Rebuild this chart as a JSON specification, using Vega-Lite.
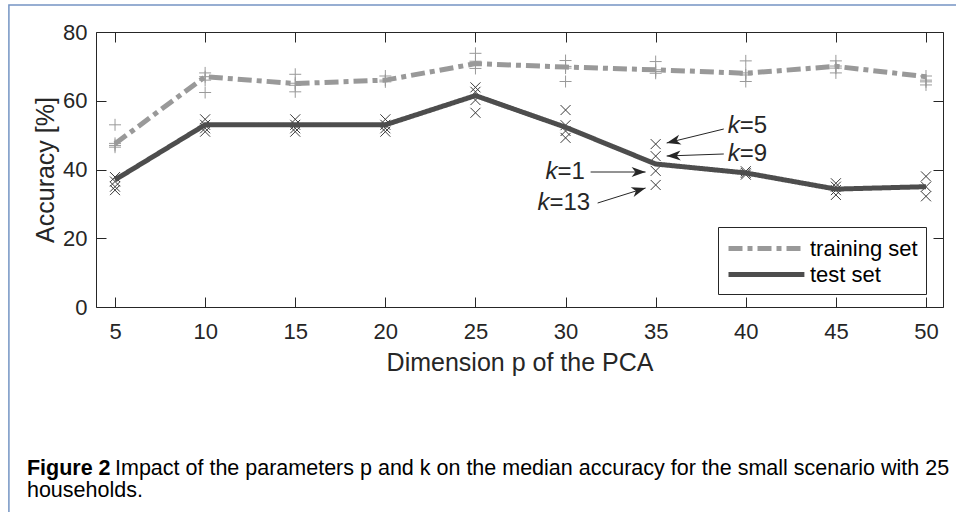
{
  "$schema": "https://vega.github.io/schema/vega-lite/v6.json",
  "width": 847,
  "height": 275,
  "autosize": {"type": "none"},
  "padding": {"left": 96, "top": 32, "right": 13, "bottom": 205},
  "background": "white",
  "config": {
    "font": "Liberation Sans",
    "view": {"stroke": null},
    "axis": {
      "grid": false,
      "domainColor": "#262626",
      "tickColor": "#262626",
      "labelColor": "#262626",
      "titleColor": "#262626",
      "titleFontWeight": "normal",
      "domainWidth": 1,
      "tickWidth": 1
    },
    "legend": {
      "strokeColor": "#262626",
      "fillColor": "white",
      "padding": 8,
      "symbolType": "M-1,0L5.9,0",
      "symbolSize": 484,
      "symbolStrokeWidth": 5,
      "labelFontSize": 22,
      "labelColor": "black",
      "labelOffset": 57,
      "rowPadding": 1
    }
  },
  "datasets": {
    "median": [
      {"p": 5, "acc": 47.5, "set": "training set"},
      {"p": 10, "acc": 67, "set": "training set"},
      {"p": 15, "acc": 65, "set": "training set"},
      {"p": 20, "acc": 66, "set": "training set"},
      {"p": 25, "acc": 70.8, "set": "training set"},
      {"p": 30, "acc": 69.8, "set": "training set"},
      {"p": 35, "acc": 69, "set": "training set"},
      {"p": 40, "acc": 68, "set": "training set"},
      {"p": 45, "acc": 70, "set": "training set"},
      {"p": 50, "acc": 67, "set": "training set"},
      {"p": 5, "acc": 37, "set": "test set"},
      {"p": 10, "acc": 53, "set": "test set"},
      {"p": 15, "acc": 53, "set": "test set"},
      {"p": 20, "acc": 53, "set": "test set"},
      {"p": 25, "acc": 61.5, "set": "test set"},
      {"p": 30, "acc": 52.3, "set": "test set"},
      {"p": 35, "acc": 41.6, "set": "test set"},
      {"p": 40, "acc": 39, "set": "test set"},
      {"p": 45, "acc": 34.3, "set": "test set"},
      {"p": 50, "acc": 35, "set": "test set"}
    ],
    "markers": [
      {"p": 5, "acc": 53, "set": "training set"},
      {"p": 5, "acc": 47.6, "set": "training set"},
      {"p": 5, "acc": 47, "set": "training set"},
      {"p": 5, "acc": 46.5, "set": "training set"},
      {"p": 10, "acc": 68.1, "set": "training set"},
      {"p": 10, "acc": 67, "set": "training set"},
      {"p": 10, "acc": 66, "set": "training set"},
      {"p": 10, "acc": 62.4, "set": "training set"},
      {"p": 15, "acc": 67.7, "set": "training set"},
      {"p": 15, "acc": 65.1, "set": "training set"},
      {"p": 15, "acc": 64.5, "set": "training set"},
      {"p": 15, "acc": 62.6, "set": "training set"},
      {"p": 20, "acc": 67.2, "set": "training set"},
      {"p": 20, "acc": 66, "set": "training set"},
      {"p": 20, "acc": 65.5, "set": "training set"},
      {"p": 25, "acc": 73.8, "set": "training set"},
      {"p": 25, "acc": 71.5, "set": "training set"},
      {"p": 25, "acc": 70.7, "set": "training set"},
      {"p": 25, "acc": 69.4, "set": "training set"},
      {"p": 30, "acc": 71.7, "set": "training set"},
      {"p": 30, "acc": 70, "set": "training set"},
      {"p": 30, "acc": 69.5, "set": "training set"},
      {"p": 30, "acc": 65.6, "set": "training set"},
      {"p": 35, "acc": 71.4, "set": "training set"},
      {"p": 35, "acc": 69, "set": "training set"},
      {"p": 35, "acc": 68.5, "set": "training set"},
      {"p": 35, "acc": 68, "set": "training set"},
      {"p": 40, "acc": 71.6, "set": "training set"},
      {"p": 40, "acc": 68.1, "set": "training set"},
      {"p": 40, "acc": 67.5, "set": "training set"},
      {"p": 40, "acc": 65.6, "set": "training set"},
      {"p": 45, "acc": 71.6, "set": "training set"},
      {"p": 45, "acc": 70.1, "set": "training set"},
      {"p": 45, "acc": 69.5, "set": "training set"},
      {"p": 45, "acc": 68.1, "set": "training set"},
      {"p": 50, "acc": 67.2, "set": "training set"},
      {"p": 50, "acc": 66, "set": "training set"},
      {"p": 50, "acc": 65.5, "set": "training set"},
      {"p": 50, "acc": 64.6, "set": "training set"},
      {"p": 5, "acc": 37.8, "set": "test set"},
      {"p": 5, "acc": 36.5, "set": "test set"},
      {"p": 5, "acc": 35, "set": "test set"},
      {"p": 5, "acc": 34, "set": "test set"},
      {"p": 10, "acc": 54.6, "set": "test set"},
      {"p": 10, "acc": 53, "set": "test set"},
      {"p": 10, "acc": 52, "set": "test set"},
      {"p": 10, "acc": 51, "set": "test set"},
      {"p": 15, "acc": 54.6, "set": "test set"},
      {"p": 15, "acc": 53, "set": "test set"},
      {"p": 15, "acc": 52, "set": "test set"},
      {"p": 15, "acc": 51, "set": "test set"},
      {"p": 20, "acc": 54.6, "set": "test set"},
      {"p": 20, "acc": 53, "set": "test set"},
      {"p": 20, "acc": 52, "set": "test set"},
      {"p": 20, "acc": 51, "set": "test set"},
      {"p": 25, "acc": 63.9, "set": "test set"},
      {"p": 25, "acc": 62.6, "set": "test set"},
      {"p": 25, "acc": 60.2, "set": "test set"},
      {"p": 25, "acc": 56.5, "set": "test set"},
      {"p": 30, "acc": 57.3, "set": "test set"},
      {"p": 30, "acc": 52.9, "set": "test set"},
      {"p": 30, "acc": 51.2, "set": "test set"},
      {"p": 30, "acc": 49.2, "set": "test set"},
      {"p": 35, "acc": 47.4, "set": "test set"},
      {"p": 35, "acc": 43.9, "set": "test set"},
      {"p": 35, "acc": 39.6, "set": "test set"},
      {"p": 35, "acc": 35.5, "set": "test set"},
      {"p": 40, "acc": 39.5, "set": "test set"},
      {"p": 40, "acc": 39, "set": "test set"},
      {"p": 40, "acc": 38.5, "set": "test set"},
      {"p": 45, "acc": 36, "set": "test set"},
      {"p": 45, "acc": 35, "set": "test set"},
      {"p": 45, "acc": 34, "set": "test set"},
      {"p": 45, "acc": 32.6, "set": "test set"},
      {"p": 50, "acc": 38, "set": "test set"},
      {"p": 50, "acc": 35, "set": "test set"},
      {"p": 50, "acc": 32.2, "set": "test set"}
    ],
    "arrows": [
      {"k": "=5", "x0": 38.78, "y0": 51.78, "x1": 35.61, "y1": 47.71, "angle": 166, "tx": 39.0, "ty": 52.65},
      {"k": "=9", "x0": 38.78, "y0": 44.51, "x1": 35.61, "y1": 43.93, "angle": 178, "tx": 39.0, "ty": 44.5},
      {"k": "=1", "x0": 31.39, "y0": 39.27, "x1": 34.44, "y1": 39.27, "angle": 0, "tx": 28.89, "ty": 39.27},
      {"k": "=13", "x0": 31.78, "y0": 30.25, "x1": 34.44, "y1": 34.62, "angle": 343, "tx": 28.44, "ty": 30.25}
    ],
    "frame": [
      {"x0": -0.889, "x1": 53, "y0": 87.85, "y1": -66}
    ],
    "caption": [
      {"part": "bold", "text": "Figure 2", "x": 0.111, "y": -48.87},
      {"part": "regular", "text": "Impact of the parameters p and k on the median accuracy for the small scenario with 25", "x": 5.0, "y": -48.87},
      {"part": "regular", "text": "households.", "x": 0.111, "y": -55.27}
    ]
  },
  "layer": [
    {
      "data": {"name": "frame"},
      "mark": {"type": "rect", "fillOpacity": 0, "stroke": "#7594c4", "strokeWidth": 1.5, "clip": false},
      "encoding": {
        "x": {"field": "x0", "type": "quantitative", "scale": {"domain": [3.944, 50.944], "nice": false, "zero": false}, "axis": null},
        "x2": {"field": "x1"},
        "y": {"field": "y0", "type": "quantitative", "scale": {"domain": [0, 80], "nice": false}, "axis": null},
        "y2": {"field": "y1"}
      }
    },
    {
      "data": {"name": "markers"},
      "transform": [{"filter": "datum.set === 'training set'"}],
      "mark": {"type": "point", "shape": "M-1,0L1,0M0,-1L0,1", "size": 144, "filled": false, "color": "#999999", "strokeWidth": 1, "opacity": 1},
      "encoding": {
        "x": {"field": "p", "type": "quantitative", "axis": null},
        "y": {"field": "acc", "type": "quantitative", "axis": null}
      }
    },
    {
      "data": {"name": "markers"},
      "transform": [{"filter": "datum.set === 'test set'"}],
      "mark": {"type": "point", "shape": "M-1,-1L1,1M-1,1L1,-1", "size": 100, "filled": false, "color": "#3a3a3a", "strokeWidth": 1, "opacity": 1},
      "encoding": {
        "x": {"field": "p", "type": "quantitative", "axis": null},
        "y": {"field": "acc", "type": "quantitative", "axis": null}
      }
    },
    {
      "data": {"name": "median"},
      "mark": {"type": "line", "strokeWidth": 5},
      "encoding": {
        "x": {
          "field": "p", "type": "quantitative",
          "scale": {"domain": [3.944, 50.944], "nice": false, "zero": false},
          "axis": {"orient": "bottom", "values": [5, 10, 15, 20, 25, 30, 35, 40, 45, 50], "tickSize": -10, "labelFontSize": 22, "labelPadding": 24, "labelFlush": false, "title": "Dimension  p of the PCA", "titleFontSize": 25, "titlePadding": 8}
        },
        "y": {
          "field": "acc", "type": "quantitative",
          "scale": {"domain": [0, 80], "nice": false},
          "axis": {"orient": "left", "values": [0, 20, 40, 60, 80], "tickSize": -10, "labelFontSize": 22, "labelPadding": 19, "title": "Accuracy [%]", "titleFontSize": 25, "titlePadding": 4}
        },
        "color": {
          "field": "set", "type": "nominal",
          "scale": {"domain": ["training set", "test set"], "range": ["#999999", "#4d4d4d"]},
          "legend": {"title": null, "orient": "none", "legendX": 622, "legendY": 195}
        },
        "strokeDash": {
          "field": "set", "type": "nominal",
          "scale": {"domain": ["training set", "test set"], "range": [[14, 5, 5, 5], [1, 0]]},
          "legend": {"title": null, "orient": "none", "legendX": 622, "legendY": 195}
        }
      }
    },
    {
      "data": {"name": "arrows"},
      "mark": {"type": "rule", "color": "#262626", "strokeWidth": 1},
      "encoding": {
        "x": {"field": "x0", "type": "quantitative", "axis": null},
        "y": {"field": "y0", "type": "quantitative", "axis": null},
        "x2": {"field": "x1"},
        "y2": {"field": "y1"}
      }
    },
    {
      "data": {"name": "arrows"},
      "mark": {"type": "point", "shape": "M0,0L-1,-0.36L-0.72,0L-1,0.36Z", "size": 784, "filled": true, "color": "#262626", "opacity": 1},
      "encoding": {
        "x": {"field": "x1", "type": "quantitative", "axis": null},
        "y": {"field": "y1", "type": "quantitative", "axis": null},
        "angle": {"field": "angle", "type": "quantitative", "scale": null}
      }
    },
    {
      "data": {"name": "arrows"},
      "mark": {"type": "text", "text": "k", "fontStyle": "italic", "fontSize": 24, "align": "left", "baseline": "middle", "color": "#262626"},
      "encoding": {
        "x": {"field": "tx", "type": "quantitative", "axis": null},
        "y": {"field": "ty", "type": "quantitative", "axis": null}
      }
    },
    {
      "data": {"name": "arrows"},
      "mark": {"type": "text", "fontSize": 24, "align": "left", "baseline": "middle", "dx": 12, "color": "#262626"},
      "encoding": {
        "x": {"field": "tx", "type": "quantitative", "axis": null},
        "y": {"field": "ty", "type": "quantitative", "axis": null},
        "text": {"field": "k"}
      }
    },
    {
      "data": {"name": "caption"},
      "transform": [{"filter": "datum.part === 'bold'"}],
      "mark": {"type": "text", "fontSize": 21.5, "fontWeight": "bold", "align": "left", "baseline": "alphabetic", "color": "black", "clip": false},
      "encoding": {
        "x": {"field": "x", "type": "quantitative", "axis": null},
        "y": {"field": "y", "type": "quantitative", "axis": null},
        "text": {"field": "text"}
      }
    },
    {
      "data": {"name": "caption"},
      "transform": [{"filter": "datum.part === 'regular'"}],
      "mark": {"type": "text", "fontSize": 21.5, "align": "left", "baseline": "alphabetic", "color": "black", "clip": false},
      "encoding": {
        "x": {"field": "x", "type": "quantitative", "axis": null},
        "y": {"field": "y", "type": "quantitative", "axis": null},
        "text": {"field": "text"}
      }
    },
    {
      "data": {"name": "median"},
      "mark": {"type": "point", "opacity": 0},
      "encoding": {
        "x": {
          "field": "p", "type": "quantitative",
          "axis": {"orient": "top", "values": [5, 10, 15, 20, 25, 30, 35, 40, 45, 50], "tickSize": -10, "labels": false, "title": null}
        },
        "y": {
          "field": "acc", "type": "quantitative",
          "axis": {"orient": "right", "values": [0, 20, 40, 60, 80], "tickSize": -10, "labels": false, "title": null}
        }
      }
    }
  ],
  "resolve": {"axis": {"x": "independent", "y": "independent"}}
}
